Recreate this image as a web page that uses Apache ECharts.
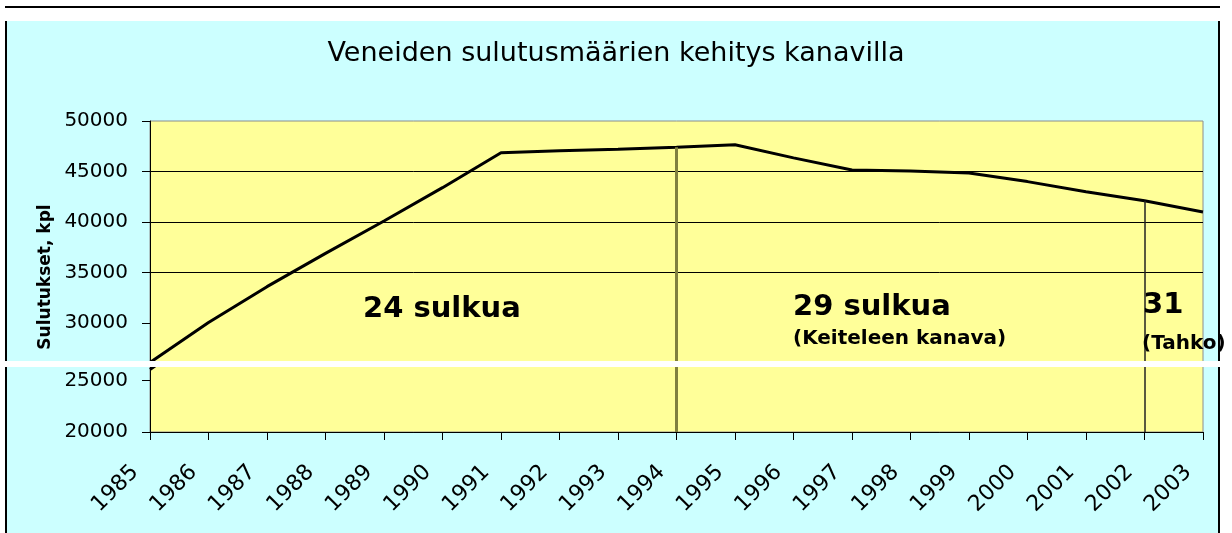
<!DOCTYPE html>
<html>
<head>
<meta charset="utf-8">
<title>Veneiden sulutusmäärien kehitys kanavilla</title>
<script src="https://cdn.jsdelivr.net/npm/echarts@6.0.0/dist/echarts.min.js"></script>
<style>
html, body { margin: 0; padding: 0; background: #fff; }
#myChart { width: 1232px; height: 533px; }
</style>
</head>
<body>
<div id="myChart"></div>
<script>
// vuodet ja sulutukset (kpl)
var years = ['1985', '1986', '1987', '1988', '1989', '1990', '1991', '1992', '1993', '1994',
             '1995', '1996', '1997', '1998', '1999', '2000', '2001', '2002', '2003'];
var locks = [26100, 30050, 33600, 36900, 40100, 43400, 46850, 47050, 47200, 47400,
             47650, 46350, 45150, 45050, 44850, 44000, 43000, 42100, 41000];
// y-akselin jaot, kuva on skannattu kahtena palana
var upperTicks = [30000, 35000, 40000, 45000, 50000];
var lowerTicks = [20000, 25000];
// vuodet, joina sulkujen määrä muuttui
var changeYears = ['1994', '2002'];
var lockCounts = ['24 sulkua', '29 sulkua', '(Keiteleen kanava)', '31', '(Tahko)'];

var title = 'Veneiden sulutusmäärien kehitys kanavilla';
var yName = 'Sulutukset, kpl';

// ylä- ja alapalan arvoalueet (skannauksen saumakohta)
var upperMin = 25745, upperMax = 50000;
var lowerMin = 20000, lowerMax = 26433;

function dropLine(year, from, to, color, width) {
  var i = years.indexOf(year);
  var top = from === null ? locks[i] : from;
  return [
    { coord: [year, top], lineStyle: { color: color, width: width, type: 'solid' } },
    { coord: [year, to] }
  ];
}

var axisFont = 'DejaVu Sans';
var boldText = function (text, x, y, size) {
  return {
    type: 'text', x: x, y: y, z: 50,
    style: {
      text: text, fill: '#000', fontFamily: axisFont, fontWeight: 'bold',
      fontSize: size, textVerticalAlign: 'middle'
    }
  };
};
var plain = function (v) { return String(v); };

var options = {
  backgroundColor: '#fff',
  animation: false,
  title: {
    text: title,
    left: 'center',
    top: 35,
    textStyle: { fontFamily: axisFont, fontSize: 27, fontWeight: 'normal', color: '#000' }
  },
  grid: [
    { left: 150, top: 121, width: 1053, height: 245, show: true,
      backgroundColor: '#ffff99', borderColor: '#8c8c8c', borderWidth: 1 },
    { left: 150, top: 366, width: 1053, height: 66, show: true,
      backgroundColor: '#ffff99', borderColor: '#8c8c8c', borderWidth: 1 }
  ],
  xAxis: [
    { gridIndex: 0, type: 'category', data: years, boundaryGap: false, show: false },
    { gridIndex: 1, type: 'category', data: years, boundaryGap: false,
      axisLine: { lineStyle: { color: '#000', width: 1 } },
      axisTick: { length: 8, lineStyle: { color: '#000' } },
      axisLabel: { interval: 0, rotate: 45, margin: 22, padding: [0, 21, 0, 0],
                   fontFamily: axisFont, fontSize: 22, color: '#000' },
      splitLine: { show: false } }
  ],
  yAxis: [
    { gridIndex: 0, type: 'value', min: upperMin, max: upperMax,
      axisLine: { show: true, lineStyle: { color: '#000' } },
      axisTick: { show: true, length: 8, customValues: upperTicks, lineStyle: { color: '#000' } },
      axisLabel: { customValues: upperTicks, formatter: plain, margin: 22,
                   fontFamily: axisFont, fontSize: 20, color: '#000' },
      splitLine: { show: true, showMinLine: false, showMaxLine: false, lineStyle: { color: '#000' } } },
    { gridIndex: 1, type: 'value', min: lowerMin, max: lowerMax,
      axisLine: { show: true, lineStyle: { color: '#000' } },
      axisTick: { show: true, length: 8, customValues: lowerTicks, lineStyle: { color: '#000' } },
      axisLabel: { customValues: lowerTicks, formatter: plain, margin: 22,
                   fontFamily: axisFont, fontSize: 20, color: '#000' },
      splitLine: { show: true, showMinLine: false, showMaxLine: false, lineStyle: { color: '#000' } } }
  ],
  series: [
    { type: 'line', xAxisIndex: 0, yAxisIndex: 0, data: locks, symbol: 'none', clip: true,
      lineStyle: { color: '#000', width: 3 },
      markLine: { silent: true, symbol: 'none', label: { show: false },
        data: [ dropLine(changeYears[0], null, upperMin, '#80803f', 3),
                dropLine(changeYears[1], null, upperMin, '#222', 1.5) ] } },
    { type: 'line', xAxisIndex: 1, yAxisIndex: 1, data: locks, symbol: 'none', clip: true,
      lineStyle: { color: '#000', width: 3 },
      markLine: { silent: true, symbol: 'none', label: { show: false },
        data: [ dropLine(changeYears[0], lowerMax, lowerMin, '#80803f', 3),
                dropLine(changeYears[1], lowerMax, lowerMin, '#222', 1.5) ] } }
  ],
  graphic: [
    // kaavion tausta ja reunat
    { type: 'rect', z: -100, shape: { x: 5, y: 21, width: 1215, height: 512 }, style: { fill: '#ccffff' } },
    { type: 'rect', z: -90, shape: { x: 5, y: 6, width: 1215, height: 2 }, style: { fill: '#000' } },
    { type: 'rect', z: -90, shape: { x: 5, y: 21, width: 2, height: 512 }, style: { fill: '#000' } },
    { type: 'rect', z: -90, shape: { x: 1218, y: 21, width: 2, height: 512 }, style: { fill: '#000' } },
    // skannauksen valkoinen sauma
    { type: 'rect', z: 100, shape: { x: 0, y: 361, width: 1232, height: 6 }, style: { fill: '#fff' } },
    { type: 'text', x: 46, y: 277, z: 50, rotation: Math.PI / 2,
      style: { text: yName, fill: '#000', fontFamily: axisFont, fontWeight: 'bold', fontSize: 17,
               textAlign: 'center', textVerticalAlign: 'middle' } },
    boldText(lockCounts[0], 363, 309, 29),
    boldText(lockCounts[1], 793, 307, 29),
    boldText(lockCounts[2], 793, 339, 20),
    boldText(lockCounts[3], 1143, 305, 29),
    boldText(lockCounts[4], 1142, 344, 20)
  ]
};

var myChart = echarts.init(document.getElementById('myChart'));
myChart.setOption(options);
</script>
</body>
</html>
